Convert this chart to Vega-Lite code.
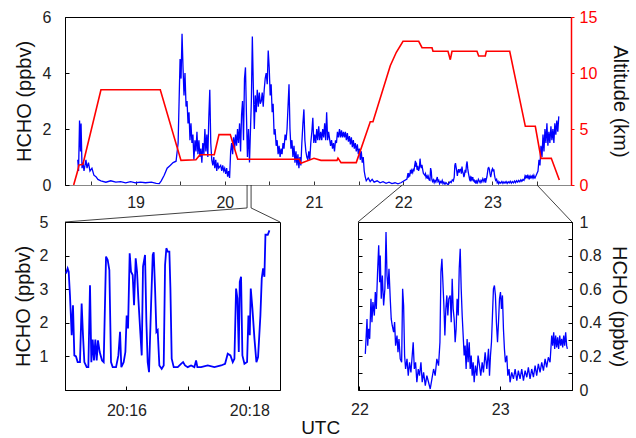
{
"$schema":"https://vega.github.io/schema/vega-lite/v6.json",
"padding":{"left":12,"top":8,"right":0,"bottom":0},
"config":{"font":"Liberation Sans","view":{"stroke":"black","strokeWidth":1},
"axis":{"labelFontSize":16,"titleFontSize":20,"titleFontWeight":"normal","labelColor":"#222","titleColor":"#111","domainColor":"black","tickColor":"black","labelFlush":false,"labelOverlap":false,"grid":false,"tickSize":-4,"domainWidth":1},
"title":{"fontSize":19,"fontWeight":"normal","color":"#111"}},
"datasets":{
"alt":[{"t":18.306,"a":0},{"t":18.349,"a":1.2},{"t":18.365,"a":1.78},{"t":18.41,"a":1.85},{"t":18.612,"a":8.5},{"t":19.277,"a":8.5},{"t":19.509,"a":2.2},{"t":19.677,"a":2.25},{"t":19.722,"a":2.7},{"t":19.882,"a":2.7},{"t":19.935,"a":4.5},{"t":20.062,"a":4.5},{"t":20.145,"a":2.3},{"t":20.835,"a":2.3},{"t":20.854,"a":1.94},{"t":21.0,"a":2.38},{"t":21.078,"a":2.2},{"t":21.258,"a":2.2},{"t":21.269,"a":2.4},{"t":21.303,"a":2.0},{"t":21.474,"a":2.0},{"t":21.631,"a":5.65},{"t":21.661,"a":5.65},{"t":21.855,"a":10.65},{"t":21.923,"a":11.85},{"t":21.998,"a":12.83},{"t":22.174,"a":12.83},{"t":22.211,"a":12.26},{"t":22.323,"a":12.26},{"t":22.334,"a":11.94},{"t":22.502,"a":11.94},{"t":22.528,"a":11.19},{"t":22.547,"a":11.94},{"t":22.827,"a":11.94},{"t":22.846,"a":11.52},{"t":22.92,"a":11.52},{"t":22.932,"a":11.94},{"t":23.194,"a":11.94},{"t":23.369,"a":5.24},{"t":23.481,"a":5.24},{"t":23.545,"a":2.38},{"t":23.66,"a":2.38},{"t":23.75,"a":0.45}],
"conn":[{"seg":"a","ord":1,"t":20.25,"y":0},{"seg":"a","ord":2,"t":20.25,"y":-0.82},{"seg":"a","ord":3,"t":18.209,"y":-1.321},{"seg":"b","ord":1,"t":20.295,"y":0},{"seg":"b","ord":2,"t":20.295,"y":-0.82},{"seg":"b","ord":3,"t":20.619,"y":-1.321},{"seg":"c","ord":1,"t":21.99,"y":0},{"seg":"c","ord":2,"t":21.493,"y":-1.321},{"seg":"d","ord":1,"t":23.5,"y":0},{"seg":"d","ord":2,"t":23.892,"y":-1.321}],
"zoom":[{"m":15.016,"v":3.47},{"m":15.043,"v":3.62},{"m":15.06,"v":3.52},{"m":15.081,"v":2.82},{"m":15.109,"v":1.63},{"m":15.13,"v":2.52},{"m":15.152,"v":1.03},{"m":15.179,"v":1.0},{"m":15.206,"v":0.83},{"m":15.244,"v":0.83},{"m":15.271,"v":2.57},{"m":15.293,"v":1.63},{"m":15.315,"v":0.83},{"m":15.353,"v":0.68},{"m":15.38,"v":0.68},{"m":15.407,"v":3.12},{"m":15.429,"v":0.83},{"m":15.451,"v":1.5},{"m":15.472,"v":0.88},{"m":15.494,"v":1.5},{"m":15.516,"v":0.88},{"m":15.537,"v":1.48},{"m":15.565,"v":1.13},{"m":15.603,"v":0.88},{"m":15.63,"v":0.83},{"m":15.668,"v":3.97},{"m":15.695,"v":3.87},{"m":15.722,"v":3.57},{"m":15.749,"v":0.83},{"m":15.776,"v":0.68},{"m":15.831,"v":0.68},{"m":15.869,"v":1.03},{"m":15.896,"v":1.73},{"m":15.917,"v":0.68},{"m":15.955,"v":0.83},{"m":15.983,"v":1.13},{"m":16.004,"v":2.22},{"m":16.026,"v":1.83},{"m":16.053,"v":4.07},{"m":16.075,"v":3.52},{"m":16.102,"v":3.42},{"m":16.124,"v":2.52},{"m":16.151,"v":3.92},{"m":16.173,"v":3.52},{"m":16.194,"v":2.72},{"m":16.227,"v":1.68},{"m":16.249,"v":1.03},{"m":16.27,"v":3.67},{"m":16.303,"v":4.02},{"m":16.325,"v":2.02},{"m":16.346,"v":0.83},{"m":16.368,"v":0.53},{"m":16.401,"v":2.52},{"m":16.428,"v":4.02},{"m":16.444,"v":4.1},{"m":16.466,"v":3.02},{"m":16.488,"v":1.73},{"m":16.509,"v":1.78},{"m":16.536,"v":0.73},{"m":16.574,"v":0.63},{"m":16.607,"v":0.73},{"m":16.629,"v":3.72},{"m":16.65,"v":4.22},{"m":16.672,"v":4.12},{"m":16.699,"v":4.12},{"m":16.716,"v":3.02},{"m":16.737,"v":0.93},{"m":16.77,"v":0.68},{"m":16.835,"v":0.68},{"m":16.889,"v":0.78},{"m":16.922,"v":0.83},{"m":16.954,"v":0.73},{"m":16.998,"v":0.68},{"m":17.052,"v":0.73},{"m":17.106,"v":0.68},{"m":17.134,"v":0.88},{"m":17.155,"v":0.68},{"m":17.215,"v":0.68},{"m":17.324,"v":0.73},{"m":17.432,"v":0.68},{"m":17.541,"v":0.73},{"m":17.606,"v":0.78},{"m":17.649,"v":1.08},{"m":17.693,"v":1.03},{"m":17.731,"v":0.83},{"m":17.758,"v":0.93},{"m":17.785,"v":3.02},{"m":17.807,"v":2.72},{"m":17.829,"v":1.13},{"m":17.845,"v":3.22},{"m":17.866,"v":3.37},{"m":17.888,"v":1.03},{"m":17.921,"v":0.78},{"m":17.964,"v":0.83},{"m":17.986,"v":2.22},{"m":18.008,"v":1.63},{"m":18.024,"v":3.02},{"m":18.051,"v":2.42},{"m":18.084,"v":1.53},{"m":18.116,"v":0.83},{"m":18.143,"v":0.98},{"m":18.181,"v":2.22},{"m":18.203,"v":3.32},{"m":18.225,"v":3.62},{"m":18.246,"v":3.37},{"m":18.263,"v":4.62},{"m":18.301,"v":4.62},{"m":18.328,"v":4.75}],
"hcho":[{"t":18.352,"v":0.9},{"t":18.361,"v":0.5},{"t":18.372,"v":2.3},{"t":18.383,"v":1.2},{"t":18.389,"v":2.2},{"t":18.4,"v":0.6},{"t":18.411,"v":0.8},{"t":18.422,"v":0.5},{"t":18.444,"v":0.9},{"t":18.456,"v":0.6},{"t":18.472,"v":0.8},{"t":18.489,"v":0.5},{"t":18.511,"v":0.6},{"t":18.533,"v":0.35},{"t":18.556,"v":0.3},{"t":18.578,"v":0.2},{"t":18.611,"v":0.15},{"t":18.667,"v":0.1},{"t":18.722,"v":0.15},{"t":18.778,"v":0.1},{"t":18.833,"v":0.12},{"t":18.889,"v":0.08},{"t":18.944,"v":0.12},{"t":19.0,"v":0.08},{"t":19.056,"v":0.1},{"t":19.111,"v":0.08},
{"t":19.177,"v":0.1},{"t":19.232,"v":0.06},{"t":19.266,"v":0.05},{"t":19.288,"v":0.15},{"t":19.321,"v":0.35},{"t":19.354,"v":0.6},{"t":19.388,"v":0.7},{"t":19.421,"v":0.8},{"t":19.454,"v":0.85},{"t":19.477,"v":1.5},{"t":19.488,"v":3.0},{"t":19.499,"v":4.5},{"t":19.51,"v":3.8},{"t":19.521,"v":5.4},{"t":19.532,"v":4.2},{"t":19.543,"v":3.2},{"t":19.554,"v":4.0},{"t":19.566,"v":2.8},{"t":19.577,"v":3.0},{"t":19.588,"v":2.2},{"t":19.599,"v":2.6},{"t":19.61,"v":1.6},{"t":19.621,"v":2.2},{"t":19.632,"v":1.5},{"t":19.643,"v":1.8},{"t":19.654,"v":0.9},{"t":19.666,"v":1.6},{"t":19.677,"v":1.2},{"t":19.688,"v":1.9},{"t":19.699,"v":1.1},{"t":19.71,"v":1.6},{"t":19.721,"v":1.0},{"t":19.732,"v":1.3},{"t":19.743,"v":0.8},{"t":19.754,"v":1.5},{"t":19.766,"v":1.1},{"t":19.777,"v":2.0},{"t":19.788,"v":1.2},{"t":19.799,"v":1.8},{"t":19.81,"v":1.0},{"t":19.821,"v":2.4},{"t":19.832,"v":3.4},{"t":19.843,"v":1.5},{"t":19.854,"v":0.9},{"t":19.866,"v":0.7},{"t":19.877,"v":1.0},{"t":19.888,"v":0.6},{"t":19.899,"v":0.9},{"t":19.91,"v":0.5},{"t":19.921,"v":0.8},{"t":19.932,"v":0.6},{"t":19.954,"v":0.7},{"t":19.966,"v":0.5},{"t":19.977,"v":0.7},{"t":19.988,"v":0.5},{"t":19.999,"v":0.6},{"t":20.01,"v":0.4},{"t":20.021,"v":0.6},{"t":20.032,"v":0.3},{"t":20.043,"v":0.5},{"t":20.054,"v":0.25},{"t":20.066,"v":1.2},{"t":20.077,"v":1.5},{"t":20.088,"v":1.1},{"t":20.099,"v":1.7},{"t":20.11,"v":1.3},{"t":20.121,"v":1.8},{"t":20.132,"v":1.4},{"t":20.143,"v":2.0},{"t":20.154,"v":1.5},{"t":20.166,"v":2.2},{"t":20.177,"v":1.2},{"t":20.188,"v":2.5},{"t":20.199,"v":3.0},{"t":20.21,"v":1.6},{"t":20.221,"v":3.8},{"t":20.232,"v":4.2},{"t":20.243,"v":2.5},{"t":20.254,"v":1.0},{"t":20.266,"v":2.0},{"t":20.277,"v":0.8},
{"t":20.298,"v":3.0},{"t":20.309,"v":5.3},{"t":20.32,"v":3.5},{"t":20.331,"v":2.0},{"t":20.342,"v":3.2},{"t":20.353,"v":2.6},{"t":20.364,"v":3.4},{"t":20.376,"v":2.8},{"t":20.387,"v":3.3},{"t":20.398,"v":2.9},{"t":20.409,"v":3.0},{"t":20.42,"v":3.3},{"t":20.431,"v":2.8},{"t":20.442,"v":3.4},{"t":20.453,"v":3.8},{"t":20.464,"v":4.0},{"t":20.476,"v":3.6},{"t":20.487,"v":4.8},{"t":20.498,"v":4.2},{"t":20.509,"v":3.2},{"t":20.52,"v":3.6},{"t":20.531,"v":2.6},{"t":20.542,"v":2.9},{"t":20.553,"v":1.8},{"t":20.564,"v":2.0},{"t":20.576,"v":1.4},{"t":20.587,"v":1.6},{"t":20.598,"v":1.1},{"t":20.609,"v":1.4},{"t":20.62,"v":1.0},{"t":20.631,"v":1.3},{"t":20.642,"v":1.1},{"t":20.653,"v":1.5},{"t":20.664,"v":1.3},{"t":20.676,"v":1.8},{"t":20.687,"v":1.6},{"t":20.698,"v":2.0},{"t":20.709,"v":2.8},{"t":20.72,"v":3.6},{"t":20.731,"v":2.0},{"t":20.742,"v":1.3},{"t":20.753,"v":1.6},{"t":20.764,"v":1.0},{"t":20.776,"v":1.4},{"t":20.787,"v":0.8},{"t":20.798,"v":1.2},{"t":20.809,"v":0.7},{"t":20.82,"v":1.1},{"t":20.831,"v":0.6},{"t":20.842,"v":1.0},{"t":20.853,"v":0.7},{"t":20.864,"v":1.5},{"t":20.876,"v":2.2},{"t":20.887,"v":2.7},{"t":20.898,"v":1.6},{"t":20.909,"v":1.2},{"t":20.92,"v":1.0},{"t":20.931,"v":0.9},{"t":20.942,"v":1.2},{"t":20.953,"v":0.9},{"t":20.964,"v":1.5},{"t":20.976,"v":1.9},{"t":20.987,"v":2.4},{"t":20.998,"v":1.5},{"t":21.009,"v":1.8},{"t":21.02,"v":1.5},{"t":21.031,"v":2.0},{"t":21.042,"v":1.6},{"t":21.053,"v":2.1},{"t":21.064,"v":1.6},{"t":21.076,"v":1.9},{"t":21.087,"v":1.6},{"t":21.098,"v":2.0},{"t":21.109,"v":1.7},{"t":21.12,"v":2.2},{"t":21.131,"v":1.6},{"t":21.142,"v":2.6},{"t":21.153,"v":1.6},{"t":21.164,"v":1.9},
{"t":21.186,"v":1.4},{"t":21.197,"v":1.6},{"t":21.208,"v":1.3},{"t":21.219,"v":1.5},{"t":21.23,"v":1.2},{"t":21.241,"v":1.6},{"t":21.252,"v":1.5},{"t":21.263,"v":1.9},{"t":21.274,"v":1.7},{"t":21.286,"v":2.0},{"t":21.297,"v":1.7},{"t":21.308,"v":1.95},{"t":21.319,"v":1.7},{"t":21.33,"v":1.9},{"t":21.341,"v":1.7},{"t":21.352,"v":1.9},{"t":21.363,"v":1.6},{"t":21.374,"v":1.85},{"t":21.386,"v":1.55},{"t":21.397,"v":1.75},{"t":21.408,"v":1.45},{"t":21.419,"v":1.7},{"t":21.43,"v":1.35},{"t":21.441,"v":1.6},{"t":21.452,"v":1.3},{"t":21.463,"v":1.5},{"t":21.474,"v":1.2},{"t":21.486,"v":1.45},{"t":21.497,"v":1.1},{"t":21.508,"v":1.3},{"t":21.519,"v":0.9},{"t":21.53,"v":1.2},{"t":21.541,"v":0.8},{"t":21.552,"v":1.0},{"t":21.563,"v":0.5},{"t":21.574,"v":0.3},{"t":21.586,"v":0.15},{"t":21.608,"v":0.25},{"t":21.63,"v":0.12},{"t":21.652,"v":0.2},{"t":21.674,"v":0.1},{"t":21.708,"v":0.15},{"t":21.741,"v":0.08},{"t":21.774,"v":0.12},{"t":21.808,"v":0.06},{"t":21.841,"v":0.1},{"t":21.874,"v":0.05},{"t":21.908,"v":0.08},{"t":21.941,"v":0.04},{"t":21.974,"v":0.08},
{"t":22.042,"v":0.215},{"t":22.054,"v":0.423},{"t":22.059,"v":0.264},{"t":22.066,"v":0.364},{"t":22.073,"v":0.304},{"t":22.082,"v":0.543},{"t":22.089,"v":0.404},{"t":22.096,"v":0.523},{"t":22.106,"v":0.443},{"t":22.113,"v":0.583},{"t":22.12,"v":0.483},{"t":22.129,"v":0.702},{"t":22.137,"v":0.861},{"t":22.144,"v":0.642},{"t":22.148,"v":0.801},{"t":22.155,"v":0.543},{"t":22.163,"v":0.682},{"t":22.172,"v":0.503},{"t":22.181,"v":0.602},{"t":22.189,"v":0.94},{"t":22.196,"v":0.682},{"t":22.203,"v":0.602},{"t":22.21,"v":0.722},{"t":22.219,"v":0.543},{"t":22.226,"v":0.423},{"t":22.233,"v":0.384},{"t":22.243,"v":0.344},{"t":22.25,"v":0.404},{"t":22.257,"v":0.264},{"t":22.267,"v":0.324},{"t":22.274,"v":0.225},{"t":22.281,"v":0.304},{"t":22.29,"v":0.185},{"t":22.3,"v":0.165},{"t":22.307,"v":0.602},{"t":22.314,"v":0.503},{"t":22.321,"v":0.205},{"t":22.328,"v":0.125},{"t":22.338,"v":0.185},{"t":22.347,"v":0.085},{"t":22.356,"v":0.165},{"t":22.366,"v":0.105},{"t":22.375,"v":0.205},{"t":22.382,"v":0.284},{"t":22.39,"v":0.125},{"t":22.399,"v":0.165},{"t":22.408,"v":0.046},{"t":22.418,"v":0.125},{"t":22.427,"v":0.085},{"t":22.437,"v":0.165},{"t":22.446,"v":0.046},{"t":22.456,"v":0.105},{"t":22.468,"v":0.026},{"t":22.479,"v":0.085},{"t":22.491,"v":0.046},{"t":22.503,"v":0.006},{"t":22.515,"v":0.066},{"t":22.527,"v":0.125},{"t":22.538,"v":0.085},{"t":22.55,"v":0.185},{"t":22.562,"v":0.145},{"t":22.572,"v":0.284},{"t":22.579,"v":0.702},{"t":22.586,"v":0.781},{"t":22.593,"v":0.642},{"t":22.6,"v":0.503},{"t":22.607,"v":0.324},{"t":22.614,"v":0.483},{"t":22.621,"v":0.563},{"t":22.628,"v":0.443},{"t":22.635,"v":0.543},{"t":22.645,"v":0.563},{"t":22.652,"v":0.404},{"t":22.659,"v":0.662},{"t":22.666,"v":0.483},{"t":22.673,"v":0.423},{"t":22.68,"v":0.284},{"t":22.687,"v":0.364},{"t":22.694,"v":0.543},{"t":22.702,"v":0.443},{"t":22.709,"v":0.722},{"t":22.716,"v":0.841},{"t":22.723,"v":0.602},{"t":22.73,"v":0.443},{"t":22.737,"v":0.324},{"t":22.744,"v":0.205},{"t":22.751,"v":0.264},{"t":22.758,"v":0.125},{"t":22.765,"v":0.304},{"t":22.772,"v":0.165},{"t":22.78,"v":0.284},{"t":22.787,"v":0.125},{"t":22.794,"v":0.205},{"t":22.801,"v":0.085},{"t":22.808,"v":0.165},{"t":22.815,"v":0.046},{"t":22.824,"v":0.145},{"t":22.834,"v":0.085},{"t":22.843,"v":0.205},{"t":22.853,"v":0.145},{"t":22.862,"v":0.085},{"t":22.872,"v":0.165},{"t":22.881,"v":0.105},{"t":22.893,"v":0.225},{"t":22.905,"v":0.125},{"t":22.917,"v":0.245},{"t":22.924,"v":0.085},{"t":22.931,"v":0.205},{"t":22.938,"v":0.284},{"t":22.945,"v":0.443},{"t":22.952,"v":0.602},{"t":22.959,"v":0.622},{"t":22.966,"v":0.563},{"t":22.973,"v":0.404},{"t":22.981,"v":0.284},{"t":22.988,"v":0.404},{"t":22.995,"v":0.543},{"t":23.002,"v":0.583},{"t":23.009,"v":0.483},{"t":23.016,"v":0.563},{"t":23.023,"v":0.364},{"t":23.03,"v":0.245},{"t":23.037,"v":0.165},{"t":23.047,"v":0.205},{"t":23.054,"v":0.085},{"t":23.063,"v":0.125},{"t":23.07,"v":0.046},{"t":23.082,"v":0.105},{"t":23.094,"v":0.066},{"t":23.106,"v":0.125},{"t":23.118,"v":0.056},{"t":23.129,"v":0.115},{"t":23.141,"v":0.066},{"t":23.153,"v":0.125},{"t":23.165,"v":0.056},{"t":23.177,"v":0.115},{"t":23.189,"v":0.076},{"t":23.2,"v":0.135},{"t":23.212,"v":0.066},{"t":23.224,"v":0.125},{"t":23.236,"v":0.076},{"t":23.248,"v":0.145},{"t":23.259,"v":0.085},{"t":23.271,"v":0.155},{"t":23.283,"v":0.105},{"t":23.295,"v":0.165},{"t":23.307,"v":0.115},{"t":23.319,"v":0.185},{"t":23.33,"v":0.135},{"t":23.342,"v":0.195},{"t":23.354,"v":0.165},{"t":23.366,"v":0.324},{"t":23.373,"v":0.264},{"t":23.38,"v":0.344},{"t":23.387,"v":0.245},{"t":23.394,"v":0.324},{"t":23.401,"v":0.254},{"t":23.408,"v":0.314},{"t":23.415,"v":0.245},{"t":23.423,"v":0.324},{"t":23.43,"v":0.264},{"t":23.437,"v":0.304},{"t":23.444,"v":0.254},{"t":23.451,"v":0.324},{"t":23.458,"v":0.264},{"t":23.465,"v":0.344},{"t":23.472,"v":0.264},{"t":23.477,"v":0.245},
{"t":23.511,"v":0.5},{"t":23.522,"v":0.9},{"t":23.533,"v":0.7},{"t":23.544,"v":1.4},{"t":23.556,"v":1.0},{"t":23.567,"v":1.8},{"t":23.578,"v":1.2},{"t":23.589,"v":2.0},{"t":23.6,"v":1.5},{"t":23.611,"v":2.2},{"t":23.622,"v":1.4},{"t":23.633,"v":1.9},{"t":23.644,"v":1.5},{"t":23.656,"v":2.1},{"t":23.667,"v":1.6},{"t":23.678,"v":2.0},{"t":23.689,"v":1.5},{"t":23.7,"v":2.2},{"t":23.711,"v":1.8},{"t":23.722,"v":2.3},{"t":23.733,"v":1.9},{"t":23.744,"v":2.45}]
},
"spacing":37,
"bounds":"flush",
"vconcat":[
{"width":506,"height":168,
 "layer":[
  {"data":{"name":"hcho"},"mark":{"type":"line","color":"#0000ff","strokeWidth":1.3,"clip":true},
   "encoding":{"x":{"field":"t","type":"quantitative","scale":{"domain":[18.209,23.881],"nice":false,"zero":false},
     "axis":{"title":null,"values":[18.5,19,19.5,20,20.5,21,21.5,22,22.5,23,23.5],"labelExpr":"datum.value % 1 === 0 ? format(datum.value,'d') : ''","domainColor":"#888","tickColor":"#333","labelPadding":13}},
    "y":{"field":"v","type":"quantitative","scale":{"domain":[0,6],"nice":false},
     "axis":{"title":"HCHO (ppbv)","values":[0,2,4,6],"labelPadding":18,"titlePadding":8}}}},
  {"data":{"name":"alt"},"mark":{"type":"line","color":"#ff0000","strokeWidth":1.6,"clip":true},
   "encoding":{"x":{"field":"t","type":"quantitative","scale":{"domain":[18.209,23.881],"nice":false,"zero":false}},
    "y":{"field":"a","type":"quantitative","scale":{"domain":[0,15],"nice":false},
     "axis":{"orient":"right","title":"Altitude (km)","values":[0,5,10,15],"tickSize":3,"labelPadding":5,"titlePadding":13,"domainColor":"#ff0000","tickColor":"#ff0000","labelColor":"#ff0000","domainWidth":1.5}}}},
  {"data":{"name":"conn"},"mark":{"type":"line","color":"#111","strokeWidth":0.8,"clip":false},
   "encoding":{"x":{"field":"t","type":"quantitative","scale":{"domain":[18.209,23.881],"nice":false,"zero":false}},
    "y":{"field":"y","type":"quantitative","scale":{"domain":[0,6],"nice":false},"axis":null},
    "detail":{"field":"seg"},"order":{"field":"ord","type":"quantitative"}}}
 ],
 "resolve":{"scale":{"y":"independent"},"axis":{"y":"independent"}}
},
{"hconcat":[
  {"width":215,"height":168,"data":{"name":"zoom"},
   "mark":{"type":"line","color":"#0000ff","strokeWidth":1.8,"clip":true},
   "encoding":{"x":{"field":"m","type":"quantitative","scale":{"domain":[15,18.5],"nice":false,"zero":false},
     "axis":{"title":null,"values":[15,16,17,18],"labelExpr":"datum.value == 16 ? '20:16' : datum.value == 18 ? '20:18' : ''","labelPadding":16,"labelDx":-9}},
    "y":{"field":"v","type":"quantitative","scale":{"domain":[0,5],"nice":false},
     "axis":{"title":"HCHO (ppbv)","values":[1,2,3,4,5],"labelExpr":"datum.value == 4 ? '2' : format(datum.value,'d')","labelPadding":21,"titlePadding":6}}}},
  {"width":214,"height":168,"data":{"name":"hcho"},"transform":[{"filter":"datum.t >= 21.99 && datum.t <= 23.51"}],
   "layer":[
    {"mark":{"type":"line","color":"#0000ff","strokeWidth":1.3,"clip":true},
     "encoding":{"x":{"field":"t","type":"quantitative","scale":{"domain":[21.99,23.51],"nice":false,"zero":false},
       "axis":{"title":null,"values":[22,23],"format":"d","labelPadding":15}},
      "y":{"field":"v","type":"quantitative","scale":{"domain":[0,1],"nice":false},
       "axis":{"orient":"right","title":"HCHO (ppbv)","values":[0,0.1,0.2,0.3,0.4,0.5,0.6,0.7,0.8,0.9,1],"labelExpr":"round(datum.value*10) % 2 == 0 ? format(datum.value,'~g') : ''","labelPadding":11,"titlePadding":7}}}},
    {"mark":{"type":"line","color":"#0000ff","strokeWidth":1.3,"clip":true,"opacity":0},
     "encoding":{"x":{"field":"t","type":"quantitative","scale":{"domain":[21.99,23.51],"nice":false,"zero":false}},
      "y":{"field":"v","type":"quantitative","scale":{"domain":[0,1],"nice":false},
       "axis":{"orient":"left","title":null,"labels":false,"domain":false,"values":[0.1,0.2,0.3,0.4,0.5,0.6,0.7,0.8,0.9]}}}}
   ],
   "resolve":{"axis":{"y":"independent"}}}
 ],
 "spacing":78,
 "bounds":"flush",
 "title":{"text":"UTC","orient":"bottom","anchor":"middle","frame":"bounds","offset":0}
}
]
}
